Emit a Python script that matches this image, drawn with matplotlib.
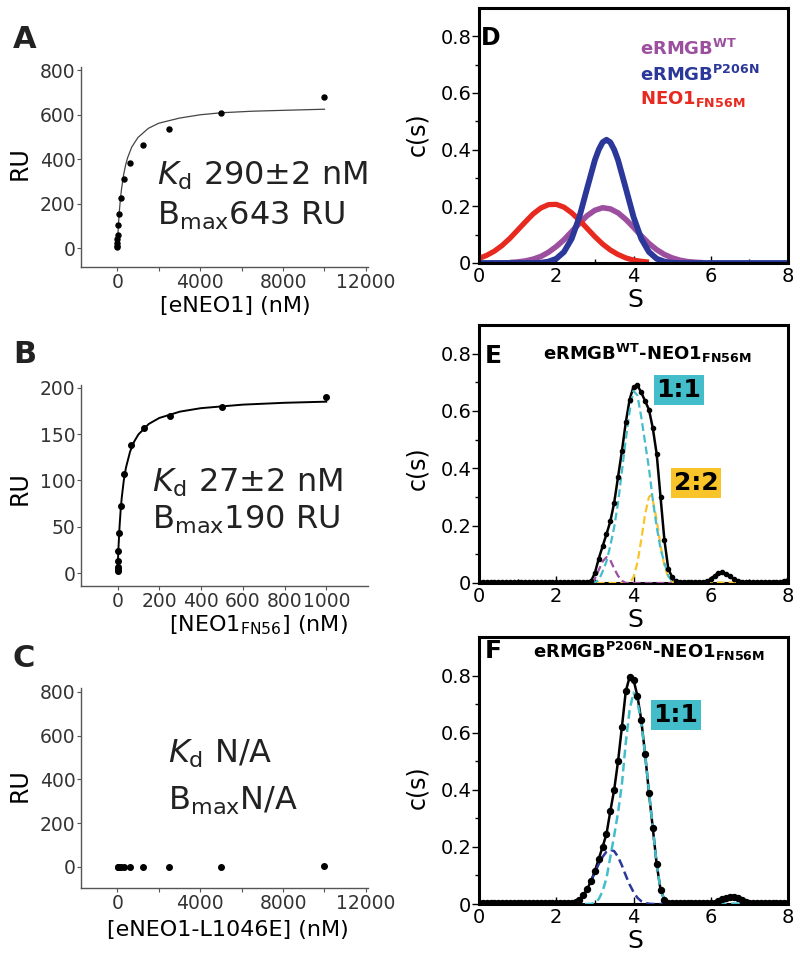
import numpy as np
import matplotlib
matplotlib.use("Agg")
import matplotlib.pyplot as plt

W, H = 800, 956

# ---------------- SPR binding (panels A-C) ----------------
conc_a = [10000, 5000, 2500, 1250, 625, 312.5, 156.3, 78.1, 39.1, 19.5, 9.8, 4.9, 2.4, 1.2]
ru_a = [680, 606, 535, 465, 385, 310, 225, 153, 105, 58, 42, 22, 10, 4.5]
fit_a_x = [0, 25, 50, 100, 150, 200, 300, 400, 500, 700, 1000, 1500, 2000, 3000, 4000, 5000, 6500, 8000, 10000]
fit_a_y = [0, 51, 95, 165, 219, 262, 327, 373, 407, 455, 498, 539, 562, 585, 600, 609, 616, 620, 625]

conc_b = [1000, 500, 250, 125, 62.5, 31.25, 15.6, 7.8, 3.9, 1.95, 0.98, 0.49, 0.24]
ru_b = [190, 179, 170, 157, 138, 107, 72, 43, 24, 13.5, 7, 4.5, 2]
fit_b_x = [0, 2, 5, 10, 15, 20, 30, 40, 60, 80, 100, 150, 200, 300, 400, 600, 800, 1000]
fit_b_y = [0, 13.1, 29.7, 51.4, 67.9, 80.9, 100.0, 113.4, 131.0, 142.0, 149.6, 161.0,
           167.4, 174.3, 178.0, 181.8, 183.8, 185.0]

conc_c = [10000, 5000, 2500, 1250, 625, 312.5, 156.3, 78.1, 39.1, 19.5]
ru_c = [3, 0, 0, 0, 0, 0, 0, 0, 0, 0]

# ---------------- c(s) distributions (panels D-F) ----------------
s_red = [0.0, 0.2, 0.4, 0.6, 0.8, 1.0, 1.2, 1.4, 1.6, 1.8, 2.0, 2.2, 2.4, 2.6, 2.8, 3.0,
         3.2, 3.4, 3.6, 3.8, 4.0, 4.2, 4.4]
c_red = [0.016, 0.027, 0.042, 0.062, 0.087, 0.116, 0.145, 0.173, 0.194, 0.206, 0.207, 0.197,
         0.177, 0.151, 0.122, 0.093, 0.067, 0.046, 0.030, 0.018, 0.010, 0.006, 0.003]
s_purple = [0.8, 1.0, 1.2, 1.4, 1.6, 1.8, 2.0, 2.2, 2.4, 2.6, 2.8, 3.0, 3.2, 3.4, 3.6, 3.8,
            4.0, 4.2, 4.4, 4.6, 4.8, 5.0, 5.2, 5.4, 5.6, 5.8]
c_purple = [0.0018, 0.0037, 0.0073, 0.0135, 0.023, 0.038, 0.058, 0.082, 0.111, 0.14, 0.167,
            0.186, 0.195, 0.191, 0.177, 0.154, 0.126, 0.096, 0.069, 0.047, 0.030, 0.018,
            0.010, 0.005, 0.0026, 0.001]
s_blue = [0.0, 1.4, 1.6, 1.8, 2.0, 2.2, 2.4, 2.6, 2.8, 3.0, 3.1, 3.2, 3.3, 3.4, 3.5, 3.6,
          3.8, 4.0, 4.2, 4.4, 4.6, 4.8, 5.0, 5.2, 8.0]
c_blue = [0, 0.0003, 0.001, 0.005, 0.015, 0.039, 0.086, 0.163, 0.264, 0.363, 0.40, 0.426,
          0.435, 0.426, 0.40, 0.363, 0.264, 0.163, 0.086, 0.039, 0.015, 0.005, 0.001, 0, 0]

s_grid = np.round(np.arange(0, 8.05, 0.1), 1)

c_e_data = ([0.004] * 29 +
            [0.006, 0.035, 0.085, 0.128, 0.17, 0.215, 0.28, 0.37, 0.46, 0.56, 0.64, 0.685,
             0.69, 0.665, 0.635, 0.605, 0.54, 0.45, 0.30, 0.15, 0.05, 0.02, 0.006] +
            [0.004] * 7 +
            [0.006, 0.014, 0.026, 0.035, 0.037, 0.033, 0.024, 0.013, 0.006] +
            [0.004] * 11 + [0.008, 0.012])
s_e_11 = [2.9, 3.0, 3.1, 3.2, 3.3, 3.4, 3.5, 3.6, 3.7, 3.8, 3.9, 4.0, 4.1, 4.2, 4.3, 4.4,
          4.5, 4.6, 4.7, 4.8, 4.9, 5.0, 5.1]
c_e_11 = [0, 0.002, 0.01, 0.04, 0.075, 0.13, 0.195, 0.28, 0.39, 0.5, 0.6, 0.67, 0.655, 0.58,
          0.49, 0.40, 0.29, 0.196, 0.12, 0.07, 0.025, 0.005, 0]
s_e_22 = [0.0, 3.9, 4.0, 4.1, 4.2, 4.3, 4.4, 4.45, 4.5, 4.6, 4.7, 4.8, 4.9, 5.0, 8.0]
c_e_22 = [0, 0, 0.02, 0.07, 0.15, 0.24, 0.3, 0.306, 0.29, 0.22, 0.13, 0.06, 0.02, 0.003, 0]
s_e_wt = [2.9, 3.0, 3.1, 3.2, 3.3, 3.4, 3.5, 3.6, 3.7, 3.8, 5.0]
c_e_wt = [0, 0.015, 0.045, 0.075, 0.09, 0.08, 0.05, 0.025, 0.008, 0, 0]

c_f_data = ([0.003] * 24 +
            [0.003, 0.006, 0.015, 0.031, 0.052, 0.08, 0.115, 0.158, 0.20, 0.245, 0.325, 0.40,
             0.50, 0.62, 0.745, 0.795, 0.785, 0.73, 0.645, 0.525, 0.39, 0.265, 0.14, 0.05,
             0.015, 0.004] +
            [0.003] * 11 +
            [0.005, 0.01, 0.016, 0.021, 0.024, 0.024, 0.02, 0.013, 0.007, 0.004] +
            [0.003] * 10)
s_f_11 = [0.0, 2.9, 3.0, 3.1, 3.2, 3.3, 3.4, 3.5, 3.6, 3.7, 3.8, 3.9, 4.0, 4.1, 4.2, 4.3,
          4.4, 4.5, 4.6, 4.7, 4.8, 4.9, 8.0]
c_f_11 = [0, 0, 0.005, 0.017, 0.045, 0.09, 0.165, 0.24, 0.32, 0.42, 0.565, 0.68, 0.74, 0.71,
          0.635, 0.525, 0.395, 0.265, 0.14, 0.05, 0.014, 0.003, 0]
s_f_p206n = [2.5, 2.6, 2.7, 2.8, 2.9, 3.0, 3.1, 3.2, 3.3, 3.4, 3.5, 3.6, 3.7, 3.8, 3.9, 4.0,
             4.1, 4.2, 4.3, 4.4, 4.5, 4.8]
c_f_p206n = [0, 0.01, 0.028, 0.05, 0.08, 0.11, 0.14, 0.165, 0.183, 0.19, 0.185, 0.165, 0.135,
             0.1, 0.068, 0.042, 0.022, 0.01, 0.004, 0.001, 0, 0]

PURPLE = "#9d4f9f"
BLUE = "#2b3799"
RED = "#e8291f"
CYAN = "#44bdca"
YELLOW = "#f8c42a"
GREY = "#555555"


def fp(x, y):
    return x / W, 1 - y / H


def rect(l, t, r, b):
    return [l / W, 1 - b / H, (r - l) / W, (b - t) / H]


fig = plt.figure(figsize=(8, 9.56), dpi=100)


def spr_axes(r, xlim, ylim, xticks, xminor, yticks):
    ax = fig.add_axes(r)
    ax.spines[["top", "right"]].set_visible(False)
    for sp in ["left", "bottom"]:
        ax.spines[sp].set_color(GREY)
        ax.spines[sp].set_linewidth(1)
    ax.set_xlim(*xlim)
    ax.set_ylim(*ylim)
    ax.set_xticks(xticks)
    ax.set_xticks(xminor, minor=True)
    ax.set_yticks(yticks)
    ax.tick_params(which="both", direction="out", length=3, width=0.8, color=GREY,
                   labelsize=13.5, labelcolor="#333333", pad=1)
    return ax


def cs_axes(r, ymax):
    ax = fig.add_axes(r)
    for sp in ax.spines.values():
        sp.set_linewidth(2.2)
    ax.set_xlim(0, 8)
    ax.set_ylim(0, ymax)
    ax.set_xticks([0, 2, 4, 6, 8])
    ax.set_xticks([1, 3, 5, 7], minor=True)
    ax.set_yticks([0, 0.2, 0.4, 0.6, 0.8])
    ax.set_yticklabels(["0", "0.2", "0.4", "0.6", "0.8"])
    ax.set_yticks([0.1, 0.3, 0.5, 0.7], minor=True)
    ax.tick_params(axis="x", which="major", direction="in", length=5, width=1,
                   labelsize=14, pad=3)
    ax.tick_params(axis="x", which="minor", direction="in", length=3, width=1)
    ax.tick_params(axis="y", which="major", direction="out", length=5, width=1,
                   labelsize=14, pad=0.5)
    ax.tick_params(axis="y", which="minor", direction="out", length=3, width=1)
    return ax


def labels(ax, xl, xpos, yl, ypos, xs, ys):
    ax.set_xlabel(xl, fontsize=xs)
    ax.xaxis.set_label_coords(*fp(*xpos), transform=fig.transFigure)
    ax.xaxis.label.set_va("center")
    ax.set_ylabel(yl, fontsize=ys)
    ax.yaxis.set_label_coords(*fp(*ypos), transform=fig.transFigure)
    ax.yaxis.label.set_va("center")


# ---- A ----
axA = spr_axes(rect(81, 67, 368, 267), (-1750, 12100), (-85, 815),
               [0, 4000, 8000, 12000], [2000, 6000, 10000], [0, 200, 400, 600, 800])
axA.plot(fit_a_x, fit_a_y, color="#444444", lw=0.9)
axA.plot(conc_a, ru_a, "o", color="black", ms=3.6)
labels(axA, "[eNEO1] (nM)", (235, 306), "RU", (20, 163), 16, 17)

# ---- B ----
axB = spr_axes(rect(81, 385, 368, 586), (-175, 1200), (-14, 203),
               [0, 200, 400, 600, 800, 1000], [], [0, 50, 100, 150, 200])
axB.plot(fit_b_x, fit_b_y, color="black", lw=1.4)
axB.plot(conc_b, ru_b, "o", color="black", ms=4)
labels(axB, r"[NEO1$_{\mathrm{FN56}}$] (nM)", (258, 625), "RU", (20, 488), 16, 17)

# ---- C ----
axC = spr_axes(rect(81, 688, 368, 888), (-1750, 12100), (-96, 818),
               [0, 4000, 8000, 12000], [2000, 6000, 10000], [0, 200, 400, 600, 800])
axC.plot(conc_c, ru_c, "o", color="black", ms=4)
labels(axC, "[eNEO1-L1046E] (nM)", (228, 930), "RU", (20, 785), 16, 17)

# annotations
for (x, y1, y2, t1, t2) in [(157, 185, 225, r"$K_{\mathrm{d}}$ 290±2 nM", r"B$_{\mathrm{max}}$643 RU"),
                            (152, 492, 529, r"$K_{\mathrm{d}}$ 27±2 nM", r"B$_{\mathrm{max}}$190 RU"),
                            (168, 763, 810, r"$K_{\mathrm{d}}$ N/A", r"B$_{\mathrm{max}}$N/A")]:
    fig.text(*fp(x, y1), t1, fontsize=23, va="baseline", color="#222222")
    fig.text(*fp(x, y2), t2, fontsize=23, va="baseline", color="#222222")

for (x, y, t) in [(13, 48, "A"), (13, 363, "B"), (13, 667, "C")]:
    fig.text(*fp(x, y), t, fontsize=22, fontweight="bold", va="baseline", color="#222222")

# ---- D ----
axD = cs_axes(rect(479, 8, 788, 263), 0.9)
axD.plot(s_purple, c_purple, color=PURPLE, lw=4, solid_capstyle="butt")
axD.plot(s_red, c_red, color=RED, lw=3.8, solid_capstyle="butt")
axD.plot(s_blue, c_blue, color=BLUE, lw=4.2, solid_capstyle="butt")
labels(axD, "S", (635, 300), "c(s)", (417, 134), 18, 17)
fig.text(*fp(481, 45), "D", fontsize=17, fontweight="bold", va="baseline")
fig.text(*fp(640, 55), r"eRMGB$^{\mathbf{WT}}$", fontsize=13, fontweight="bold",
         color=PURPLE, va="baseline")
fig.text(*fp(640, 81), r"eRMGB$^{\mathbf{P206N}}$", fontsize=13, fontweight="bold",
         color=BLUE, va="baseline")
fig.text(*fp(640, 104), r"NEO1$_{\mathbf{FN56M}}$", fontsize=13, fontweight="bold",
         color=RED, va="baseline")

# ---- E ----
axE = cs_axes(rect(479, 325, 788, 583), 0.9)
axE.plot(s_grid, c_e_data, color="black", lw=1.8, zorder=2)
axE.plot(s_e_22, c_e_22, color=YELLOW, lw=1.6, ls=(0, (3.5, 1.8)), zorder=3)
axE.plot(s_e_wt, c_e_wt, color=PURPLE, lw=1.6, ls=(0, (3.5, 1.8)), zorder=3)
axE.plot(s_e_11, c_e_11, color=CYAN, lw=1.6, ls=(0, (3.5, 1.8)), zorder=3)
axE.plot(s_grid, c_e_data, "o", color="black", ms=3, zorder=4)
labels(axE, "S", (635, 620), "c(s)", (417, 468), 18, 17)
fig.text(*fp(485, 363), "E", fontsize=18, fontweight="bold", va="baseline")
fig.text(*fp(647, 360), r"eRMGB$^{\mathbf{WT}}$-NEO1$_{\mathbf{FN56M}}$", fontsize=13,
         fontweight="bold", ha="center", va="baseline")
fig.text(*fp(679, 390), "1:1", fontsize=18, fontweight="bold", ha="center", va="center",
         bbox=dict(boxstyle="square,pad=0.12", fc=CYAN, ec="none"))
fig.text(*fp(696, 483), "2:2", fontsize=18, fontweight="bold", ha="center", va="center",
         bbox=dict(boxstyle="square,pad=0.12", fc=YELLOW, ec="none"))

# ---- F ----
axF = cs_axes(rect(479, 637, 788, 904), 0.935)
axF.plot(s_grid, c_f_data, color="black", lw=1.8, zorder=2)
axF.plot(s_f_p206n, c_f_p206n, color=BLUE, lw=1.8, ls=(0, (3.5, 1.8)), zorder=3)
axF.plot(s_f_11, c_f_11, color=CYAN, lw=1.8, ls=(0, (3.5, 1.8)), zorder=3)
axF.plot(s_grid, c_f_data, "o", color="black", ms=4.3, zorder=4)
labels(axF, "S", (635, 941), "c(s)", (417, 787), 18, 17)
fig.text(*fp(485, 658), "F", fontsize=18, fontweight="bold", va="baseline")
fig.text(*fp(649, 658), r"eRMGB$^{\mathbf{P206N}}$-NEO1$_{\mathbf{FN56M}}$", fontsize=13,
         fontweight="bold", ha="center", va="baseline")
fig.text(*fp(676, 715), "1:1", fontsize=18, fontweight="bold", ha="center", va="center",
         bbox=dict(boxstyle="square,pad=0.12", fc=CYAN, ec="none"))

fig.savefig("out.png", dpi=100)
